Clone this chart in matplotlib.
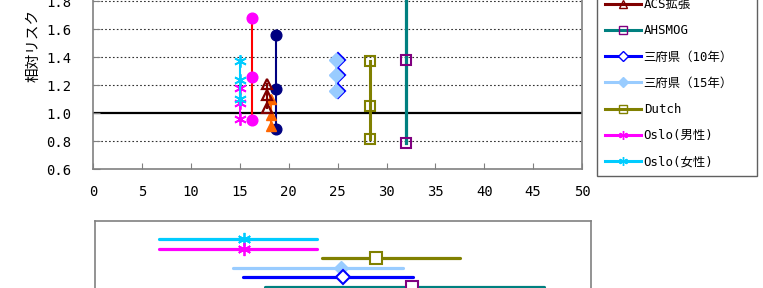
import matplotlib.pyplot as plt

# 研究ごとの濃度平均と相対リスク（上限・中央・下限）
studies = ['6都市', '6都市拡張', 'ACS', 'ACS拡張', 'AHSMOG',
           '三府県（10年）', '三府県（15年）', 'Dutch', 'Oslo(男性)', 'Oslo(女性)']
conc = [16.2, 18.65, 18.15, 17.8, 31.95, 25.05, 24.8, 28.35, 15.0, 15.0]
rr_high = [1.68, 1.56, 1.10, 1.21, 1.95, 1.38, 1.38, 1.37, 1.18, 1.37]
rr_mid = [1.26, 1.17, 0.99, 1.13, 1.38, 1.27, 1.27, 1.05, 1.07, 1.24]
rr_low = [0.955, 0.885, 0.91, 1.04, 0.79, 1.16, 1.16, 0.82, 0.96, 1.10]

# 下段：濃度範囲（上から）
range_names = ['Oslo(女性)', 'Oslo(男性)', 'Dutch', '三府県（15年）', '三府県（10年）', 'AHSMOG']
range_lo = [6.45, 6.45, 22.9, 13.9, 14.9, 17.1]
range_hi = [22.4, 22.4, 36.8, 31.1, 32.1, 45.3]

y_ticks = [0.6, 0.8, 1.0, 1.2, 1.4, 1.6, 1.8]
x_ticks = list(range(0, 55, 5))

star = (6, 2, 0)
styles = {
    '6都市':        dict(color='#FF0000', marker='o', mfc='#FF00FF', mec='#FF00FF', lw=1.5, ms=7.7),
    '6都市拡張':    dict(color='#000080', marker='o', mfc='#000080', mec='#000080', lw=1.5, ms=7.7),
    'ACS':          dict(color='#FF6600', marker='^', mfc='#FF6600', mec='#FF6600', lw=1.5, ms=7.5),
    'ACS拡張':      dict(color='#800000', marker='^', mfc='none', mec='#800000', lw=1.5, ms=7.5, mew=1.6),
    'AHSMOG':       dict(color='#008080', marker='s', mfc='none', mec='#800080', lw=2.3, ms=7.5, mew=1.5),
    '三府県（10年）': dict(color='#0000FF', marker='D', mfc='white', mec='#0000FF', lw=1.5, ms=7, mew=1.5),
    '三府県（15年）': dict(color='#99CCFF', marker='D', mfc='#99CCFF', mec='#99CCFF', lw=1.5, ms=7),
    'Dutch':        dict(color='#808000', marker='s', mfc='none', mec='#808000', lw=2.2, ms=7.5, mew=1.5),
    'Oslo(男性)':   dict(color='#FF00FF', marker=star, mfc='#FF00FF', mec='#FF00FF', lw=1.5, ms=9, mew=1.3),
    'Oslo(女性)':   dict(color='#00CCFF', marker=star, mfc='#00CCFF', mec='#00CCFF', lw=1.5, ms=9, mew=1.3),
}

mono = ['DejaVu Sans Mono', 'Noto Sans CJK JP']
W, H = 763, 288
fig = plt.figure(figsize=(W / 100, H / 100), dpi=100)

# 上段：相対リスク
ax = fig.add_axes([93.3 / W, 1 - 169.3 / H, (582 - 93.3) / W, 196 / H])
ax.set_xlim(0, 50)
ax.set_ylim(0.6, 2.0)
for y in [0.8, 1.2, 1.4, 1.6, 1.8]:
    ax.axhline(y, color='#303030', lw=0.8, ls=(0, (1.5, 2)), zorder=0)
ax.axhline(1.0, color='black', lw=1.6, zorder=1)

handles = {}
for i, name in enumerate(studies):
    st = styles[name]
    h, = ax.plot([conc[i]] * 3, [rr_high[i], rr_mid[i], rr_low[i]],
                 color=st['color'], lw=st['lw'], marker=st['marker'],
                 markerfacecolor=st['mfc'], markeredgecolor=st['mec'],
                 markersize=st['ms'], markeredgewidth=st.get('mew', 1.0),
                 label=name, zorder=3)
    handles[name] = h

ax.set_xticks(x_ticks)
ax.set_yticks(y_ticks)
ax.set_xticklabels([str(v) for v in x_ticks], family=mono, fontsize=10)
ax.set_yticklabels(['%.1f' % v for v in y_ticks], family=mono, fontsize=10)
ax.tick_params(axis='x', direction='in', length=4, color='#808080', pad=11)
ax.tick_params(axis='y', direction='in', length=5, color='#808080', pad=16)
for s in ['left', 'bottom', 'right']:
    ax.spines[s].set_color('#808080')
    ax.spines[s].set_linewidth(1.2)
ax.spines['top'].set_visible(False)

fig.text(33.3 / W, 1 - 45.5 / H, '相対リスク', rotation=90, ha='center', va='center',
         family=['Noto Sans CJK JP'], fontsize=10.5)

# 凡例（上部は画像の外）
leg_names = studies[3:]
leg = fig.legend([handles[n] for n in leg_names], leg_names, loc='lower left',
                 bbox_to_anchor=(597.3 / W, 1 - 175.7 / H, 160 / W, 0.5),
                 mode='expand', borderaxespad=0, prop=dict(family=mono, size=8.9),
                 handlelength=2.9, handletextpad=0.25, labelspacing=1.07,
                 borderpad=0.6, markerscale=0.7, fancybox=False, framealpha=1)
leg.get_frame().set_edgecolor('#606060')
leg.get_frame().set_linewidth(1.0)
for ln in leg.get_lines():
    ln.set_linewidth(2.2)
    ln.set_markeredgewidth(1.0)

# 下段：濃度範囲
bx = fig.add_axes([95.3 / W, 1 - 340.7 / H, (590.7 - 95.3) / W, 120 / H])
bx.set_xlim(0, 50)
bx.set_ylim(10.67, -1.96)
for k, name in enumerate(range_names):
    st = styles[name]
    c = conc[studies.index(name)]
    bx.plot([range_lo[k], range_hi[k]], [k, k], color=st['color'], lw=2.3,
            solid_capstyle='round', zorder=2)
    mfc = 'white' if st['mfc'] == 'none' else st['mfc']
    bx.plot([c], [k], marker=st['marker'], markerfacecolor=mfc,
            markeredgecolor=st['mec'], markersize=st['ms'] + 0.5,
            markeredgewidth=st.get('mew', 1.0), zorder=3)
bx.set_xticks([])
bx.set_yticks([])
for s in bx.spines.values():
    s.set_color('#808080')
    s.set_linewidth(1.2)

fig.savefig('out.png', dpi=100)
